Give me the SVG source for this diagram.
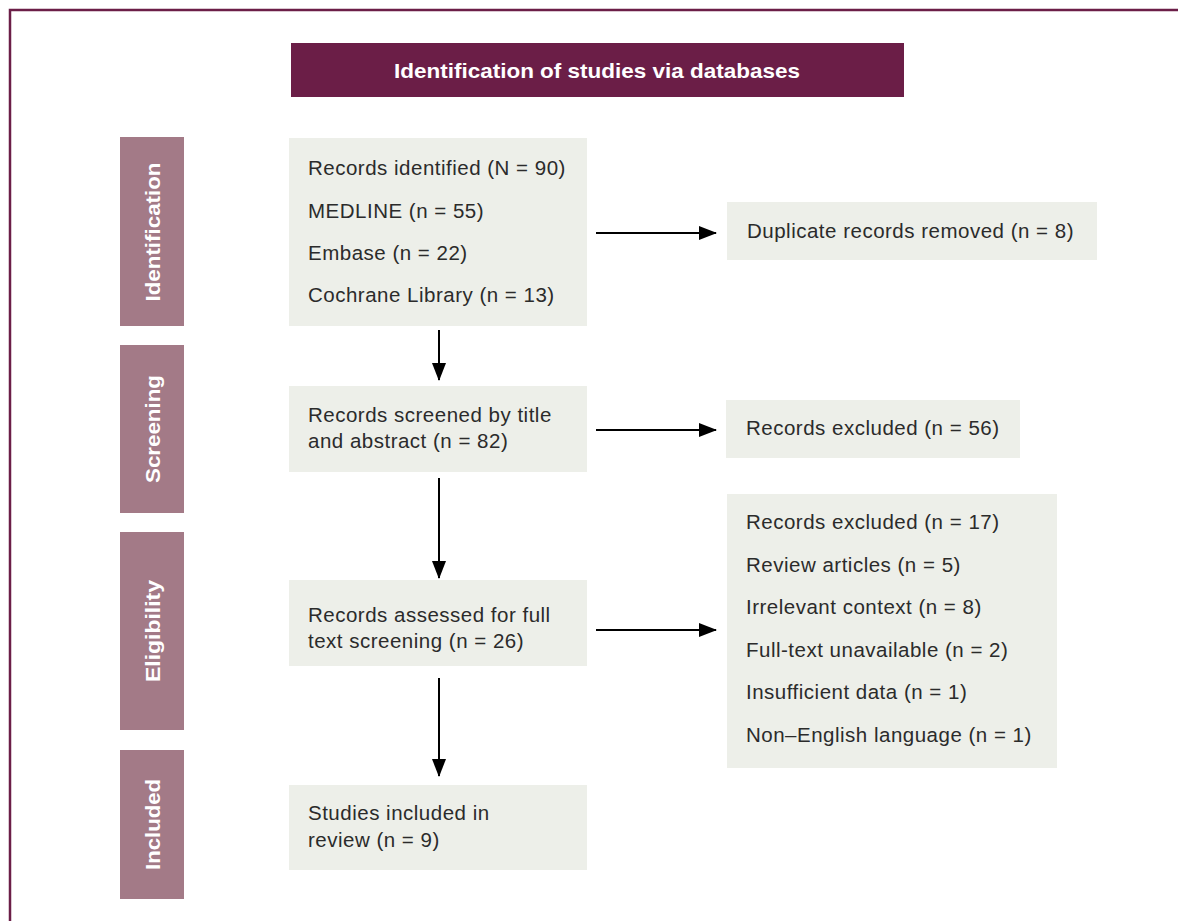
<svg xmlns="http://www.w3.org/2000/svg" width="1178" height="921" viewBox="0 0 1178 921">
<style>
.box{fill:#edefe9}
.side{fill:#a37a87}
.t{font-family:"Liberation Sans",Arial,sans-serif;font-size:20.5px;letter-spacing:0.5px;fill:#2b2b2b}
.st{font-family:"Liberation Sans",Arial,sans-serif;font-size:21px;font-weight:bold;fill:#ffffff}
.conn{stroke:#000;stroke-width:2;fill:none;marker-end:url(#ah)}
</style>
<defs>
<marker id="ah" markerWidth="18" markerHeight="14" refX="17" refY="7" orient="auto" markerUnits="userSpaceOnUse">
<path d="M0,0 L18,7 L0,14 Z" fill="#000"/>
</marker>
</defs>
<rect x="0" y="0" width="1178" height="921" fill="#ffffff"/>
<rect id="frame" x="10" y="10" width="1200" height="1000" fill="none" stroke="#6b1e47" stroke-width="2.5"/>
<g id="header">
<rect x="291" y="43" width="613" height="54" fill="#6b1e47"/>
<text class="st" x="394" y="78" textLength="406" lengthAdjust="spacingAndGlyphs">Identification of studies via databases</text>
</g>
<g id="phase-identification">
<rect class="side" x="120" y="137" width="64" height="189"/>
<text class="st" transform="translate(159.5,301.5) rotate(-90)" textLength="139" lengthAdjust="spacingAndGlyphs">Identification</text>
</g>
<g id="phase-screening">
<rect class="side" x="120" y="345" width="64" height="168"/>
<text class="st" transform="translate(159.5,483) rotate(-90)" textLength="108" lengthAdjust="spacingAndGlyphs">Screening</text>
</g>
<g id="phase-eligibility">
<rect class="side" x="120" y="532" width="64" height="198"/>
<text class="st" transform="translate(159.5,682) rotate(-90)" textLength="102" lengthAdjust="spacingAndGlyphs">Eligibility</text>
</g>
<g id="phase-included">
<rect class="side" x="120" y="750" width="64" height="149"/>
<text class="st" transform="translate(159.5,870) rotate(-90)" textLength="91" lengthAdjust="spacingAndGlyphs">Included</text>
</g>
<g id="records-identified">
<rect class="box" x="289" y="138" width="298" height="188"/>
<text class="t" x="308" y="175">Records identified (N = 90)</text>
<text class="t" x="308" y="218">MEDLINE (n = 55)</text>
<text class="t" x="308" y="260">Embase (n = 22)</text>
<text class="t" x="308" y="302">Cochrane Library (n = 13)</text>
</g>
<g id="duplicates-removed">
<rect class="box" x="727" y="202" width="370" height="58"/>
<text class="t" x="747" y="238">Duplicate records removed (n = 8)</text>
</g>
<g id="records-screened">
<rect class="box" x="289" y="386" width="298" height="86"/>
<text class="t" x="308" y="422">Records screened by title</text>
<text class="t" x="308" y="448">and abstract (n = 82)</text>
</g>
<g id="records-excluded-56">
<rect class="box" x="726" y="400" width="294" height="58"/>
<text class="t" x="746" y="435">Records excluded (n = 56)</text>
</g>
<g id="records-assessed">
<rect class="box" x="289" y="580" width="298" height="86"/>
<text class="t" x="308" y="622">Records assessed for full</text>
<text class="t" x="308" y="648">text screening (n = 26)</text>
</g>
<g id="records-excluded-17">
<rect class="box" x="727" y="494" width="330" height="274"/>
<text class="t" x="746" y="529">Records excluded (n = 17)</text>
<text class="t" x="746" y="572">Review articles (n = 5)</text>
<text class="t" x="746" y="614">Irrelevant context (n = 8)</text>
<text class="t" x="746" y="657">Full-text unavailable (n = 2)</text>
<text class="t" x="746" y="699">Insufficient data (n = 1)</text>
<text class="t" x="746" y="742">Non–English language (n = 1)</text>
</g>
<g id="studies-included">
<rect class="box" x="289" y="785" width="298" height="85"/>
<text class="t" x="308" y="820">Studies included in</text>
<text class="t" x="308" y="847">review (n = 9)</text>
</g>
<g id="connectors">
<line class="conn" x1="596" y1="233" x2="716" y2="233"/>
<line class="conn" x1="596" y1="430" x2="716" y2="430"/>
<line class="conn" x1="596" y1="630" x2="716" y2="630"/>
<line class="conn" x1="439" y1="330" x2="439" y2="380"/>
<line class="conn" x1="439" y1="478" x2="439" y2="578"/>
<line class="conn" x1="439" y1="678" x2="439" y2="776"/>
</g>
</svg>
